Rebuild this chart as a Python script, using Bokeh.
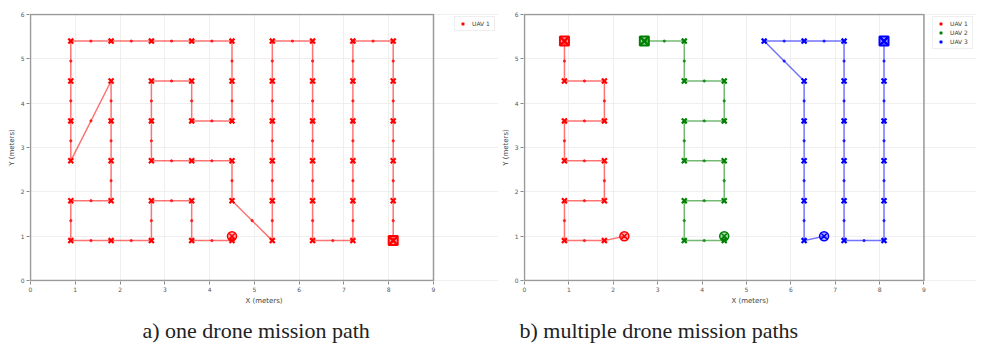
import numpy as np
from bokeh.plotting import figure
from bokeh.models import Range1d, Legend, LegendItem, Title, FixedTicker
from bokeh.layouts import row
from bokeh.embed import file_html
from bokeh.resources import INLINE

# ---------------- data ----------------
X_TICKS = [0, 1, 2, 3, 4, 5, 6, 7, 8, 9]
Y_TICKS = [0, 1, 2, 3, 4, 5, 6]
X_LABEL = "X (meters)"
Y_LABEL = "Y (meters)"
CAPTION_A = "a) one drone mission path"
CAPTION_B = "b) multiple drone mission paths"

# a) single drone: home point, then waypoints in flight order
a_home_x = [4.5]
a_home_y = [1.0]
a_x = [4.5, 3.6, 3.6, 2.7, 2.7, 1.8, 0.9, 0.9, 1.8, 1.8, 1.8, 1.8, 0.9, 0.9, 0.9, 0.9,
       1.8, 2.7, 3.6, 4.5, 4.5, 4.5, 3.6, 3.6, 2.7, 2.7, 2.7, 3.6, 4.5, 4.5,
       5.4, 5.4, 5.4, 5.4, 5.4, 5.4, 6.3, 6.3, 6.3, 6.3, 6.3, 6.3,
       7.2, 7.2, 7.2, 7.2, 7.2, 7.2, 8.1, 8.1, 8.1, 8.1, 8.1, 8.1]
a_y = [0.9, 0.9, 1.8, 1.8, 0.9, 0.9, 0.9, 1.8, 1.8, 2.7, 3.6, 4.5, 2.7, 3.6, 4.5, 5.4,
       5.4, 5.4, 5.4, 5.4, 4.5, 3.6, 3.6, 4.5, 4.5, 3.6, 2.7, 2.7, 2.7, 1.8,
       0.9, 1.8, 2.7, 3.6, 4.5, 5.4, 5.4, 4.5, 3.6, 2.7, 1.8, 0.9,
       0.9, 1.8, 2.7, 3.6, 4.5, 5.4, 5.4, 4.5, 3.6, 2.7, 1.8, 0.9]

# b) three drones
b1_home_x = [2.25]
b1_home_y = [1.0]
b1_x = [1.8, 0.9, 0.9, 1.8, 1.8, 0.9, 0.9, 1.8, 1.8, 0.9, 0.9]
b1_y = [0.9, 0.9, 1.8, 1.8, 2.7, 2.7, 3.6, 3.6, 4.5, 4.5, 5.4]

b2_home_x = [4.5]
b2_home_y = [1.0]
b2_x = [4.5, 3.6, 3.6, 4.5, 4.5, 3.6, 3.6, 4.5, 4.5, 3.6, 3.6, 2.7]
b2_y = [0.9, 0.9, 1.8, 1.8, 2.7, 2.7, 3.6, 3.6, 4.5, 4.5, 5.4, 5.4]

b3_home_x = [6.75]
b3_home_y = [1.0]
b3_x = [6.3, 6.3, 6.3, 6.3, 6.3, 5.4, 6.3, 7.2, 7.2, 7.2, 7.2, 7.2, 7.2,
        8.1, 8.1, 8.1, 8.1, 8.1, 8.1]
b3_y = [0.9, 1.8, 2.7, 3.6, 4.5, 5.4, 5.4, 5.4, 4.5, 3.6, 2.7, 1.8, 0.9,
        0.9, 1.8, 2.7, 3.6, 4.5, 5.4]

UAV_NAMES = ["UAV 1", "UAV 2", "UAV 3"]
UAV_COLORS = ["#ff0000", "#008000", "#0000ff"]

FONT = "DejaVu Sans"
FRAME_W = 403  # pixel width of the 0..9 data box
FRAME_H = 269  # pixel height of the 0..6 data box


def make_fig(width, left_border, caption, cap_offset):
    # the frame is extended to the right so that the legend can sit there
    extra_w = width - left_border - FRAME_W
    x_end = X_TICKS[-1] * (FRAME_W + extra_w) / FRAME_W
    pad_x = X_TICKS[-1] / FRAME_W * 1.0
    pad_y = Y_TICKS[-1] / FRAME_H * 1.0
    p = figure(width=width, height=350,
               x_range=Range1d(X_TICKS[0] - pad_x, x_end),
               y_range=Range1d(Y_TICKS[0] - pad_y, Y_TICKS[-1] + pad_y),
               output_backend="svg", toolbar_location=None,
               min_border_left=left_border - 1, min_border_right=0,
               min_border_top=13, min_border_bottom=66,
               background_fill_color="white", border_fill_color="white")
    p.outline_line_color = None
    p.xaxis.ticker = FixedTicker(ticks=X_TICKS)
    p.yaxis.ticker = FixedTicker(ticks=Y_TICKS)
    p.xaxis.bounds = (X_TICKS[0], X_TICKS[-1])
    p.yaxis.bounds = (Y_TICKS[0], Y_TICKS[-1])
    p.xaxis.axis_label = X_LABEL
    p.yaxis.axis_label = Y_LABEL
    for ax in (p.xaxis[0], p.yaxis[0]):
        ax.axis_line_color = None
        ax.major_tick_line_color = "#888888"
        ax.major_tick_out = 3
        ax.major_tick_in = 0
        ax.minor_tick_line_color = None
        ax.major_label_text_font = FONT
        ax.major_label_text_font_size = "6px"
        ax.major_label_text_color = "#555555"
        ax.major_label_standoff = 2
        ax.axis_label_text_font = FONT
        ax.axis_label_text_font_size = "7px"
        ax.axis_label_text_font_style = "normal"
        ax.axis_label_text_color = "#444444"
        ax.axis_label_standoff = 2
    p.grid.grid_line_color = "#ebebeb"
    p.grid.grid_line_width = 0.8
    p.ygrid.bounds = (X_TICKS[0], X_TICKS[-1])
    p.xgrid.bounds = (Y_TICKS[0], Y_TICKS[-1])
    # data box border (matplotlib-style spines)
    p.quad(left=X_TICKS[0], right=X_TICKS[-1], bottom=Y_TICKS[0], top=Y_TICKS[-1],
           fill_color=None, line_color="#9a9a9a", line_width=1.5)
    p.add_layout(Title(text=caption, text_font="Liberation Serif", text_font_size="22px",
                       text_font_style="normal", text_color="#222222",
                       align="left", offset=cap_offset, standoff=16), "below")
    return p


def draw_path(p, hx, hy, xs, ys, color):
    xs = np.array(xs)
    ys = np.array(ys)
    p.line([hx[0], xs[0]], [hy[0], ys[0]], line_color=color, line_alpha=0.55, line_width=1.5)
    p.line(xs, ys, line_color=color, line_alpha=0.55, line_width=1.5)
    mx = (xs[:-1] + xs[1:]) / 2
    my = (ys[:-1] + ys[1:]) / 2
    p.scatter(mx, my, marker="circle", size=2.3, fill_color=color, line_color=color,
              fill_alpha=0.7, line_alpha=0.7)
    p.scatter(xs, ys, marker="x", size=7, line_color=color, line_width=2.2)
    p.scatter([xs[-1]], [ys[-1]], marker="square_x", size=9, line_color=color,
              fill_color=color, fill_alpha=0.35, line_width=2)
    p.scatter(hx, hy, marker="circle_x", size=9, line_color=color,
              fill_color=color, fill_alpha=0.3, line_width=1.5)
    # legend swatch (same marker, thinner stroke so it reads at legend size)
    key = p.scatter(x=[np.nan], y=[np.nan], marker="x", line_color=color, line_width=1.6)
    return key


def add_legend(p, items):
    lg = Legend(items=items, location="top_right", label_text_font=FONT,
                label_text_font_size="6px", label_text_color="#444444",
                glyph_width=11, glyph_height=9, label_height=8, label_standoff=4,
                padding=2, spacing=0, margin=3,
                border_line_color="#dddddd", border_line_width=1,
                background_fill_color="white", background_fill_alpha=1.0)
    p.add_layout(lg, "center")


pa = make_fig(498, 30, CAPTION_A, 113)
ra = draw_path(pa, a_home_x, a_home_y, a_x, a_y, UAV_COLORS[0])
add_legend(pa, [LegendItem(label=UAV_NAMES[0], renderers=[ra])])

pb = make_fig(478, 22, CAPTION_B, -4)
r1 = draw_path(pb, b1_home_x, b1_home_y, b1_x, b1_y, UAV_COLORS[0])
r2 = draw_path(pb, b2_home_x, b2_home_y, b2_x, b2_y, UAV_COLORS[1])
r3 = draw_path(pb, b3_home_x, b3_home_y, b3_x, b3_y, UAV_COLORS[2])
add_legend(pb, [LegendItem(label=UAV_NAMES[0], renderers=[r1]),
                LegendItem(label=UAV_NAMES[1], renderers=[r2]),
                LegendItem(label=UAV_NAMES[2], renderers=[r3])])

layout = row(pa, pb)
open("out.html", "w").write(file_html(layout, INLINE))
